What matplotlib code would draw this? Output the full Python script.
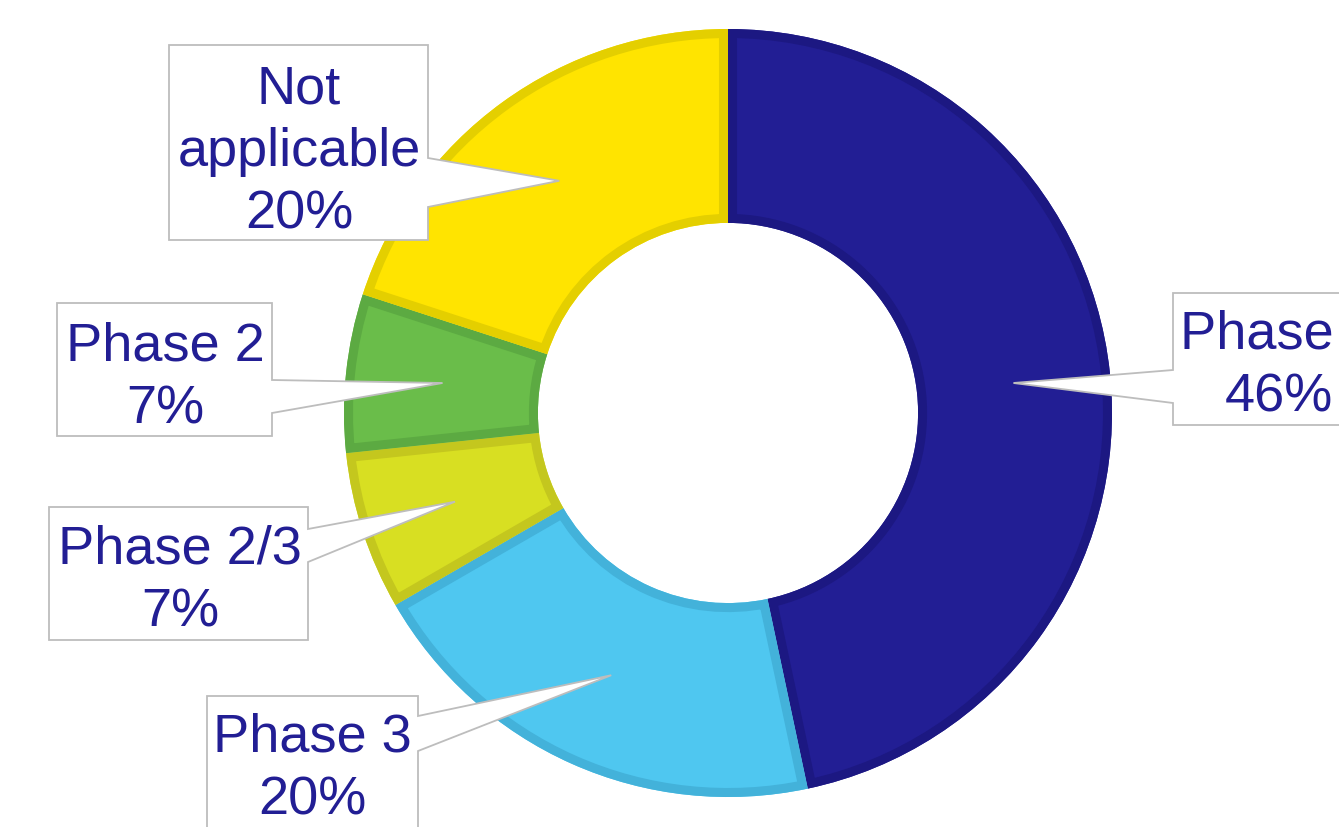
import numpy as np
import matplotlib
matplotlib.use('Agg')
import matplotlib.pyplot as plt
from matplotlib.patches import Polygon, PathPatch

# data
names = ['Phase 1', 'Phase 3', 'Phase 2/3', 'Phase 2', 'Not\napplicable']
counts = [7, 3, 1, 1, 3]
pct_labels = ['46%', '20%', '7%', '7%', '20%']

fills = ['#221e94', '#4fc7f0', '#d8df22', '#6abd4a', '#ffe400']
edges = ['#1c1882', '#43b2da', '#c4c71e', '#5caa42', '#e4cf00']
text_col = '#221e94'

# layout in pixels (y measured from top)
W, H = 1339, 828
cx, cy = 728, 414
R = 384
ring = 0.505

# box (x0, y0, x1, y1), pointer side, pointer base (ya, yb), text centre
boxes = [
    ((1173, 294, 1395, 426), 'left', (371, 404), (1279, 366)),
    ((207, 697, 418, 830), 'right', (717, 752), (312, 769)),
    ((49, 508, 308, 641), 'right', (530, 563), (180, 581)),
    ((57, 304, 272, 437), 'right', (381, 414), (165, 378)),
    ((169, 46, 428, 241), 'right', (159, 208), (299, 152)),
]


def px2d(px, py):
    return (px - cx) / R, (cy - py) / R


fig = plt.figure(figsize=(W / 100, H / 100), dpi=100)
ax = fig.add_axes([0, 0, 1, 1])

wedges, _ = ax.pie(counts, colors=fills, startangle=90, counterclock=False,
                   radius=1, wedgeprops=dict(width=ring, linewidth=0))
# darker inner border for each slice, clipped to the slice itself
for wdg, ec in zip(wedges, edges):
    rim = PathPatch(wdg.get_path(), transform=wdg.get_transform(),
                    facecolor='none', edgecolor=ec, linewidth=13, zorder=2)
    ax.add_patch(rim)
    rim.set_clip_path(wdg)

ax.set_xlim(-cx / R, (W - cx) / R)
ax.set_ylim((cy - H) / R, cy / R)
ax.set_aspect('auto')
ax.axis('off')

# pointer tips sit in the middle of the ring at each slice's mid angle
fracs = np.array(counts) / sum(counts)
ends = 90 - np.cumsum(fracs) * 360
mids = ends + fracs * 180
rmid = 1 - ring / 2

for i, (box, side, base, tc) in enumerate(boxes):
    x0, y0, x1, y1 = box
    tip = (rmid * np.cos(np.radians(mids[i])), rmid * np.sin(np.radians(mids[i])))
    ya, yb = base
    if side == 'right':
        pts = [px2d(x0, y0), px2d(x1, y0), px2d(x1, ya), tip,
               px2d(x1, yb), px2d(x1, y1), px2d(x0, y1)]
    else:
        pts = [px2d(x0, y0), px2d(x1, y0), px2d(x1, y1), px2d(x0, y1),
               px2d(x0, yb), tip, px2d(x0, ya)]
    ax.add_patch(Polygon(pts, closed=True, facecolor='white',
                         edgecolor='#bdbdbd', linewidth=1.3, zorder=3))
    tx, ty = px2d(*tc)
    ax.text(tx, ty, names[i] + '\n' + pct_labels[i], ha='center', va='center',
            fontsize=39, color=text_col, linespacing=1.31, zorder=4,
            family=['Liberation Sans', 'DejaVu Sans'])

fig.savefig('out.png', dpi=100)
